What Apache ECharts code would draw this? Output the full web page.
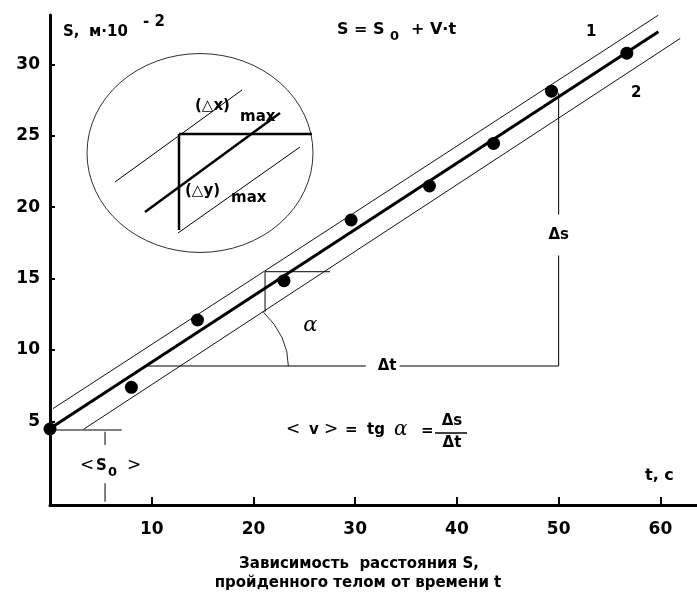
<!DOCTYPE html>
<html><head><meta charset="utf-8">
<script src="https://cdn.jsdelivr.net/npm/echarts@6/dist/echarts.min.js"></script>
<style>html,body{margin:0;padding:0;background:#fff}#c{width:697px;height:594px}</style>
</head><body><div id="c"></div>
<script>
// ---- data ----
const times = [0, 8.0, 14.5, 23.0, 29.6, 37.3, 43.6, 49.3, 56.7];
const distances = [4.47, 7.39, 12.1, 14.85, 19.1, 21.48, 24.46, 28.12, 30.78];
const fitLine = [[0, 4.5], [59.8, 32.27]];
const boundLine1 = [[0.3, 5.9], [59.8, 33.44]];
const boundLine2 = [[3.3, 4.45], [61.95, 31.81]];
const xTicks = [10, 20, 30, 40, 50, 60];
const yTicks = [5, 10, 15, 20, 25, 30];
const deltaT = [9.6, 50];      // t-range of the Δt segment
const deltaS = [8.88, 28];     // s-range of the Δs segment
const errBoxT = [21.14, 27.53];
const errBoxS = [12.68, 15.48];
const s0Level = 4.4;
const s0LineT = [0, 7.05];
const s0MarkT = 5.41;
const s0MarkUpper = [4.28, 3.35];
const s0MarkLower = [0.67, -0.62];
const arcRadT = 13.83, arcRadS = 6.64, arcAngleDeg = 35;

const FONT = '"DejaVu Sans", Verdana, sans-serif';
const chart = echarts.init(document.getElementById('c'), null, {renderer: 'canvas'});

function txt(text, x, y, size, opts) {
  opts = opts || {};
  return {
    type: 'text', x: x, y: y, silent: true,
    style: Object.assign({
      text: text, fill: '#000', fontSize: size, fontWeight: 'bold', fontFamily: FONT,
      align: 'left', verticalAlign: 'middle'
    }, opts)
  };
}
function seg(x1, y1, x2, y2, w) {
  return {type: 'line', silent: true, shape: {x1: x1, y1: y1, x2: x2, y2: y2}, style: {stroke: '#000', lineWidth: w || 1}};
}

const option = {
  backgroundColor: '#fff',
  animation: false,
  grid: {left: 50, right: 0, top: 15, bottom: 89, containLabel: false, outerBoundsMode: 'none'},
  xAxis: {
    type: 'value', min: 0, max: 63.6,
    axisLine: {onZero: false, lineStyle: {color: '#000', width: 3}},
    axisTick: {show: true, inside: true, length: 8, lineStyle: {color: '#000', width: 2}, customValues: xTicks},
    axisLabel: {customValues: xTicks, margin: 16, color: '#000', fontSize: 17, fontWeight: 'bold', fontFamily: FONT},
    splitLine: {show: false}
  },
  yAxis: {
    type: 'value', min: -0.85, max: 33.45,
    axisLine: {onZero: false, lineStyle: {color: '#000', width: 3}},
    axisTick: {show: true, inside: true, length: 5, lineStyle: {color: '#000', width: 2}, customValues: yTicks},
    axisLabel: {customValues: yTicks, margin: 10, color: '#000', fontSize: 17, fontWeight: 'bold', fontFamily: FONT},
    splitLine: {show: false}
  },
  series: [
    {type: 'line', data: boundLine1, symbol: 'none', lineStyle: {color: '#111', width: 1}, silent: true},
    {type: 'line', data: boundLine2, symbol: 'none', lineStyle: {color: '#111', width: 1}, silent: true},
    {type: 'line', data: fitLine, symbol: 'none', lineStyle: {color: '#000', width: 3}, silent: true},
    {
      type: 'custom', coordinateSystem: 'cartesian2d', clip: false, silent: true, z: 3,
      data: [[0, 0]],
      renderItem: function (params, api) {
        const c = function (t, s) { return api.coord([t, s]); };
        const L = function (p1, p2, w) { return seg(p1[0], p1[1], p2[0], p2[1], w); };
        const ch = [];
        // Δt and Δs construction
        ch.push(L(c(deltaT[0], deltaS[0]), c(deltaT[1], deltaS[0])));
        ch.push(L(c(deltaT[1], deltaS[0]), c(deltaT[1], deltaS[1])));
        // error box
        ch.push(L(c(errBoxT[0], errBoxS[0]), c(errBoxT[0], errBoxS[1])));
        ch.push(L(c(errBoxT[0], errBoxS[1]), c(errBoxT[1], errBoxS[1])));
        // S0 level and marks
        ch.push(L(c(s0LineT[0], s0Level), c(s0LineT[1], s0Level)));
        ch.push(L(c(s0MarkT, s0MarkUpper[0]), c(s0MarkT, s0MarkUpper[1])));
        ch.push(L(c(s0MarkT, s0MarkLower[0]), c(s0MarkT, s0MarkLower[1])));
        // angle arc
        const o = c(deltaT[0], deltaS[0]);
        const rx = c(deltaT[0] + arcRadT, deltaS[0])[0] - o[0];
        const ry = o[1] - c(deltaT[0], deltaS[0] + arcRadS)[1];
        ch.push({
          type: 'arc', x: o[0], y: o[1], scaleY: ry / rx,
          shape: {cx: 0, cy: 0, r: rx, startAngle: -arcAngleDeg * Math.PI / 180, endAngle: 0, clockwise: true},
          style: {stroke: '#000', fill: null, lineWidth: 1, strokeNoScale: true}
        });
        // labels on the construction lines
        const pt = c((deltaT[0] + deltaT[1]) / 2 + 2.9, deltaS[0]);
        ch.push(txt('Δt', pt[0], pt[1], 15, {align: 'center', backgroundColor: '#fff', padding: [3, 3, 3, 12]}));
        const ps = c(deltaT[1], 18.05);
        ch.push(txt('Δs', ps[0], ps[1], 15, {align: 'center', backgroundColor: '#fff', padding: [9, 2, 17, 2]}));
        const pa = c(deltaT[0] + 16, deltaS[0] + 2.8);
        ch.push(txt('α', pa[0], pa[1], 21, {align: 'center', fontWeight: 'normal', fontStyle: 'italic', fontFamily: '"DejaVu Serif", serif'}));
        return {type: 'group', children: ch};
      }
    },
    {
      type: 'scatter', data: times.map(function (t, i) { return [t, distances[i]]; }),
      symbol: 'circle', symbolSize: 13, itemStyle: {color: '#000', opacity: 1}, z: 5, silent: true
    }
  ],
  graphic: [
    // axis captions
    txt('S,', 63, 32, 15),
    txt('м·10', 89, 32, 15),
    txt('- 2', 143, 22, 15),
    txt('t, c', 645, 476, 16),
    // formula S = S0 + V·t
    txt('S = S', 337, 30, 16),
    txt('0', 390, 37, 13),
    txt('+ V·t', 411, 30, 16),
    txt('1', 586, 32, 15),
    txt('2', 631, 93, 15),
    // <S0>
    txt('<', 80, 466, 17, {fontWeight: 'normal'}),
    txt('S', 96, 466, 15),
    txt('0', 108, 473, 13),
    txt('>', 127, 466, 17, {fontWeight: 'normal'}),
    // <v> = tg α = Δs/Δt
    txt('<', 286, 430, 17, {fontWeight: 'normal'}),
    txt('v', 309, 430, 15),
    txt('>', 324, 430, 17, {fontWeight: 'normal'}),
    txt('=', 345, 430, 15),
    txt('tg', 367, 430, 15),
    txt('α', 394, 430, 20, {fontWeight: 'normal', fontStyle: 'italic', fontFamily: '"DejaVu Serif", serif'}),
    txt('=', 421, 431, 15),
    txt('Δs', 452, 421, 15, {align: 'center'}),
    seg(435, 433, 467, 433, 1.5),
    txt('Δt', 452, 443, 15, {align: 'center'}),
    // inset
    {type: 'circle', x: 200, y: 153, scaleY: 0.88, silent: true, shape: {cx: 0, cy: 0, r: 113},
      style: {stroke: '#222', fill: null, lineWidth: 1, strokeNoScale: true}},
    seg(115, 182, 242, 90, 1),
    seg(145, 212, 280, 113, 2.5),
    seg(178, 233, 300, 147, 1),
    seg(179, 134, 179, 230, 2.5),
    seg(179, 134, 312, 134, 2.5),
    txt('(△x)', 195, 106, 15),
    txt('max', 240, 117, 15),
    txt('(△y)', 185, 191, 15),
    txt('max', 231, 198, 15),
    // title
    txt('Зависимость  расстояния S,', 359, 564, 15, {align: 'center'}),
    txt('пройденного телом от времени t', 358, 583, 15, {align: 'center'})
  ]
};
chart.setOption(option);
</script>
</body></html>
